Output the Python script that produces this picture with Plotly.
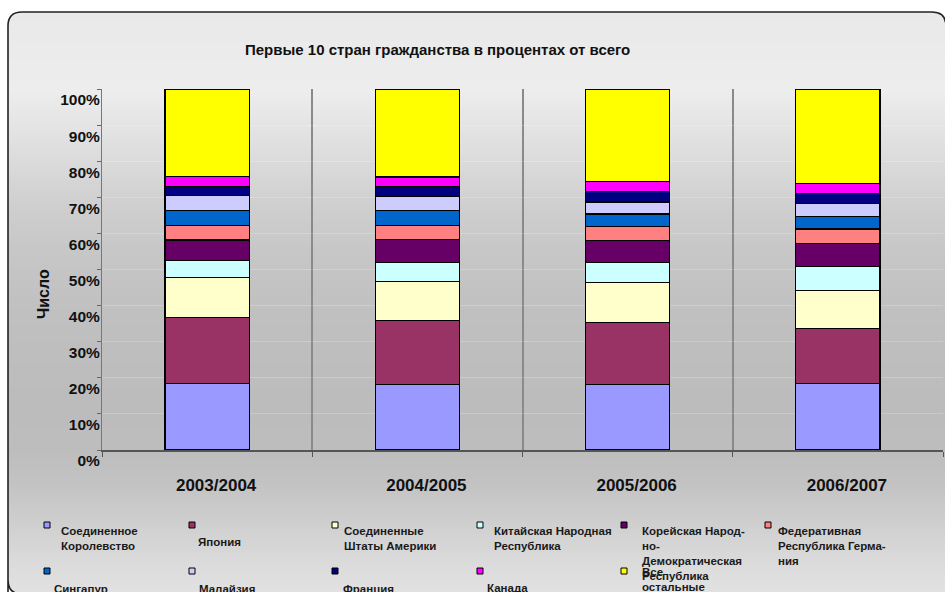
import numpy as np
import plotly.graph_objects as go

# ---------------- data ----------------
categories = ["2003/2004", "2004/2005", "2005/2006", "2006/2007"]

series_names = [
    "Соединенное Королевство", "Япония", "Соединенные Штаты Америки",
    "Китайская Народная Республика", "Корейская Народно-Демократическая Республика",
    "Федеративная Республика Германия", "Сингапур", "Малайзия", "Франция",
    "Канада", "Все остальные",
]
legend_text = [
    "Соединенное<br>Королевство", "Япония", "Соединенные<br>Штаты Америки",
    "Китайская Народная<br>Республика",
    "Корейская Народ-<br>но-<br>Демократическая<br>Республика",
    "Федеративная<br>Республика Герма-<br>ния",
    "Сингапур", "Малайзия", "Франция", "Канада", "Все<br>остальные",
]

uk = [18.5, 18.1, 18.1, 18.4]
japan = [18.25, 17.8, 17.2, 15.3]
usa = [10.95, 10.8, 11.0, 10.55]
china = [4.7, 5.3, 5.7, 6.65]
korea = [5.8, 6.3, 6.1, 6.4]
germany = [4.1, 3.9, 3.8, 3.9]
singapore = [4.0, 4.1, 3.5, 3.5]
malaysia = [4.1, 3.9, 3.3, 3.5]
france = [2.7, 2.7, 2.9, 2.9]
canada = [2.6, 2.7, 2.7, 2.7]
others = [24.3, 24.4, 25.7, 26.2]

series_values = [uk, japan, usa, china, korea, germany, singapore, malaysia,
                 france, canada, others]

colors = ["#9999FF", "#993366", "#FFFFCC", "#CCFFFF", "#660066", "#FF8080",
          "#0066CC", "#CCCCFF", "#000080", "#FF00FF", "#FFFF00"]

y_tickvals = [0, 10, 20, 30, 40, 50, 60, 70, 80, 90, 100]
y_ticktext = ["0%", "10%", "20%", "30%", "40%", "50%", "60%", "70%", "80%", "90%", "100%"]

title_text = "Первые 10 стран гражданства в процентах от всего"
y_title = "Число"

# ---------------- layout geometry ----------------
W, H = 945, 592
ML, MR, MT, MB = 102, 2, 89, 142
PW, PH = W - ML - MR, H - MT - MB


def px(x):
    return (x - ML) / PW


def py(y):
    return (H - MB - y) / PH


FONT = "Liberation Sans, Arial, sans-serif"

fig = go.Figure()
for name, vals, col in zip(series_names, series_values, colors):
    fig.add_trace(go.Bar(
        x=categories, y=vals, name=name, width=0.4,
        marker=dict(color=col, line=dict(color="#000000", width=1.2)),
        showlegend=False,
    ))

shapes = []
# background gradient (bands)
stop_y = [12, 90, 150, 200, 250, 300, 350, 400, 450, 480, 520, 560, 594]
stop_v = [233, 237, 222, 208, 199, 193, 190, 188, 189, 194, 206, 218, 226]
step = 3
for y0 in range(12, 594, step):
    v = int(round(np.interp(y0 + step / 2, stop_y, stop_v)))
    c = f"rgb({v},{v},{v})"
    shapes.append(dict(type="rect", xref="paper", yref="paper",
                       x0=px(8), x1=px(947), y0=py(y0), y1=py(min(y0 + step, 594) + 0.6),
                       fillcolor=c, line=dict(width=0), layer="below"))

# rounded frame & corner masks
R = 14
L0, T0, R0, B0 = 8, 12, 946, 594
for (cx, cy, ax, ay, bx, by) in [
    (L0, T0, L0 + R, T0, L0, T0 + R),
    (R0, T0, R0 - R, T0, R0, T0 + R),
    (L0, B0, L0, B0 - R, L0 + R, B0),
]:
    path = (f"M {px(cx)},{py(cy)} L {px(ax)},{py(ay)} "
            f"Q {px(cx)},{py(cy)} {px(bx)},{py(by)} Z")
    shapes.append(dict(type="path", xref="paper", yref="paper", path=path,
                       fillcolor="white", line=dict(width=0), layer="below"))
frame = (f"M {px(L0)},{py(B0 + 10)} L {px(L0)},{py(B0 - R)} "
         f"Q {px(L0)},{py(B0)} {px(L0 + R)},{py(B0)} L {px(R0 + 10)},{py(B0)} "
         f"M {px(L0)},{py(B0 - R)} L {px(L0)},{py(T0 + R)} "
         f"Q {px(L0)},{py(T0)} {px(L0 + R)},{py(T0)} L {px(R0 - R)},{py(T0)} "
         f"Q {px(R0)},{py(T0)} {px(R0)},{py(T0 + R)} L {px(R0)},{py(B0 + 10)}")
shapes.append(dict(type="path", xref="paper", yref="paper", path=frame,
                   line=dict(color="#222222", width=1.6), layer="above"))

# legend (manual, Excel style)
marker_pos = [(44, 522), (189, 522), (332, 522), (477, 522), (621, 522), (765, 522),
              (44, 568), (189, 568), (332, 568), (477, 568), (621, 568)]
text_pos = [(59, 523), (196, 534), (342, 523), (492, 523), (640, 523), (776, 523),
            (52, 581), (197, 581), (341, 581), (485, 580), (640, 564)]
annotations = []
for (mx, my), (tx, ty), col, lab in zip(marker_pos, text_pos, colors, legend_text):
    shapes.append(dict(type="rect", xref="paper", yref="paper",
                       x0=px(mx), x1=px(mx + 6), y0=py(my), y1=py(my + 6),
                       fillcolor=col, line=dict(color="#000000", width=1), layer="above"))
    annotations.append(dict(xref="paper", yref="paper", x=px(tx), y=py(ty),
                            xanchor="left", yanchor="top", align="left",
                            text=lab, showarrow=False,
                            font=dict(family=FONT, size=11.5, color="#1a1a1a", weight="bold")))

annotations.append(dict(xref="paper", yref="paper", x=px(437), y=py(50),
                        xanchor="center", yanchor="middle", text=title_text,
                        showarrow=False,
                        font=dict(family=FONT, size=15, color="#111111", weight="bold")))
annotations.append(dict(xref="paper", yref="paper", x=px(43), y=py(294),
                        xanchor="center", yanchor="middle", text=y_title,
                        textangle=-90, showarrow=False,
                        font=dict(family=FONT, size=16, color="#111111", weight="bold")))

fig.update_layout(
    width=W, height=H, autosize=False,
    margin=dict(l=ML, r=MR, t=MT, b=MB, pad=0),
    paper_bgcolor="white", plot_bgcolor="rgba(0,0,0,0)",
    barmode="stack", bargap=0.6,
    shapes=shapes, annotations=annotations,
    xaxis=dict(type="category", range=[-0.5, 3.5], tickson="boundaries",
               showgrid=True, gridcolor="#8a8a8a", gridwidth=1.5,
               ticks="outside", ticklen=5, tickcolor="#555555",
               showline=True, linecolor="#555555", linewidth=1.5,
               ticklabelstandoff=19, ticklabelshift=9,
               tickfont=dict(family=FONT, size=17, color="#111111", weight="bold")),
    yaxis=dict(range=[0, 100], tickvals=y_tickvals, ticktext=y_ticktext,
               ticks="outside", ticklen=4, tickcolor="#666666",
               showline=True, linecolor="#777777", linewidth=1,
               showgrid=True, gridcolor="rgba(255,255,255,0.2)", gridwidth=1,
               zeroline=False, ticklabelshift=11, ticklabelstandoff=-6,
               tickfont=dict(family=FONT, size=15.5, color="#111111", weight="bold")),
)

fig.write_html("out.html")
